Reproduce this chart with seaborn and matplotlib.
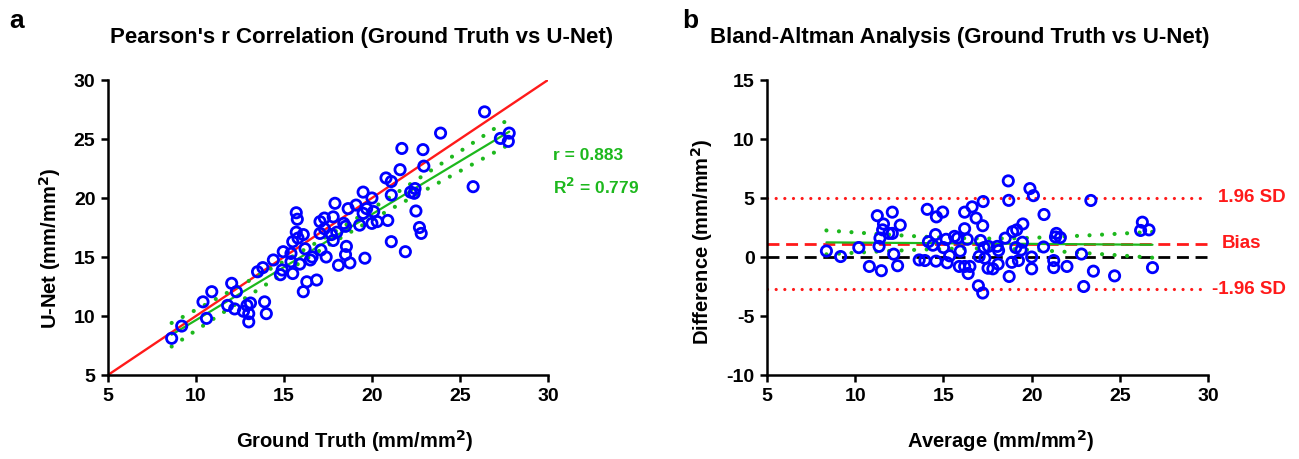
import numpy as np
import pandas as pd
import seaborn as sns
import matplotlib
matplotlib.use('Agg')
import matplotlib.pyplot as plt

# style: Prism-like, bold Arial look, pure black text/axes
sns.set_style('ticks')
plt.rcParams['font.family'] = ['Liberation Sans', 'DejaVu Sans']
plt.rcParams['font.weight'] = 'bold'
plt.rcParams['axes.labelweight'] = 'bold'
plt.rcParams['axes.unicode_minus'] = False
plt.rcParams['mathtext.default'] = 'bf'
for key in ['text.color', 'axes.labelcolor', 'axes.edgecolor', 'xtick.color', 'ytick.color']:
    plt.rcParams[key] = 'black'

# data (Ground Truth vs U-Net, mm/mm^2)
ground_truth = [8.62, 9.19, 10.6, 10.9, 10.4, 12.03, 12.3, 11.8, 12.2, 12.7,
                12.9, 13.1, 13.0, 13.0, 13.5, 13.8, 13.9, 14.0, 17.9, 18.65,
                19.1, 15.7, 15.76, 17.05, 17.3, 17.8, 15.7, 15.8, 15.5, 17.05,
                17.3, 17.7, 18.0, 14.96, 15.4, 16.2, 16.6, 17.1, 17.4, 18.55,
                18.5, 18.1, 18.75, 14.4, 14.9, 15.5, 16.3, 16.86, 16.1, 23.9,
                21.7, 22.9, 21.6, 22.95, 20.8, 21.1, 21.1, 19.5, 20.0, 22.2,
                22.4, 19.7, 19.5, 20.1, 20.3, 20.0, 19.3, 18.4, 18.5, 20.9,
                22.5, 22.7, 22.8, 21.1, 21.9, 19.6, 26.4, 27.3, 27.8, 27.75,
                25.75, 16.1, 16.5, 14.8, 15.4, 15.9, 17.8, 22.45]
unet = [8.11, 9.15, 9.8, 12.06, 11.2, 12.77, 12.06, 10.9, 10.6, 10.4,
        10.9, 11.1, 9.5, 10.2, 13.75, 14.1, 11.2, 10.2, 19.55, 19.1,
        19.4, 18.75, 18.2, 18.0, 18.3, 18.4, 17.1, 16.6, 16.3, 17.0,
        17.4, 16.9, 17.1, 15.45, 15.3, 15.7, 15.0, 15.6, 15.0, 15.9,
        15.2, 14.3, 14.5, 14.75, 13.9, 13.6, 12.9, 13.05, 12.06, 25.5,
        24.2, 24.1, 22.4, 22.7, 21.7, 21.4, 20.25, 20.5, 20.0, 20.5,
        20.4, 19.1, 18.7, 18.85, 18.0, 17.85, 17.7, 17.85, 17.6, 18.1,
        18.9, 17.5, 17.0, 16.3, 15.45, 14.9, 27.3, 25.05, 25.5, 24.8,
        20.96, 16.9, 14.75, 13.5, 14.6, 14.4, 16.4, 20.8]

r_label = 'r = 0.883'
r2_label = 'R$^2$ = 0.779'
left_ticks = [5, 10, 15, 20, 25, 30]
right_yticks = [-10, -5, 0, 5, 10, 15]

BLUE = '#0000FF'
RED = '#FF1A1A'
GREEN = '#1DB81D'
UNIT = 'mm/mm$^2$'


def fit_with_band(x, y, xs, t=1.99):
    # linear fit + 95% confidence band of the fitted line
    n = len(x)
    slope, intercept = np.polyfit(x, y, 1)
    yhat = intercept + slope * xs
    resid = y - (intercept + slope * x)
    s = np.sqrt(np.sum(resid ** 2) / (n - 2))
    se = s * np.sqrt(1 / n + (xs - x.mean()) ** 2 / np.sum((x - x.mean()) ** 2))
    return yhat, yhat - t * se, yhat + t * se


def style_axis(ax):
    sns.despine(ax=ax)
    for side in ['left', 'bottom']:
        ax.spines[side].set_linewidth(1.8)
    ax.tick_params(axis='both', width=1.8, length=5, labelsize=14,
                   direction='out', pad=4)
    for lab in ax.get_xticklabels() + ax.get_yticklabels():
        lab.set_fontweight('bold')


df = pd.DataFrame({'GT': ground_truth, 'UNet': unet})
df['Average'] = (df['GT'] + df['UNet']) / 2
df['Difference'] = df['GT'] - df['UNet']

fig = plt.figure(figsize=(12.99, 4.59), dpi=100)
ax1 = fig.add_axes([0.0831, 0.183, 0.3387, 0.6427])
ax2 = fig.add_axes([0.5905, 0.183, 0.3395, 0.6427])

dot_style = dict(color=GREEN, linewidth=3.0, linestyle=(0, (0.01, 3.0)),
                 dash_capstyle='round')

# ---- a: correlation ----
ax1.plot([5, 30], [5, 30], color=RED, linewidth=1.7, zorder=1)
x = df['GT'].values
y = df['UNet'].values
xs = np.linspace(x.min(), x.max(), 100)
yhat, lo, hi = fit_with_band(x, y, xs)
ax1.plot(xs, yhat, color=GREEN, linewidth=1.6, zorder=2)
ax1.plot(xs, lo, **dot_style, zorder=2)
ax1.plot(xs, hi, **dot_style, zorder=2)
sns.scatterplot(data=df, x='GT', y='UNet', ax=ax1, marker='o', s=55,
                facecolor='none', edgecolor=BLUE, linewidth=2.0, zorder=3)
ax1.set_xlim(5, 30)
ax1.set_ylim(5, 30)
ax1.set_xticks(left_ticks)
ax1.set_yticks(left_ticks)
ax1.set_xlabel('Ground Truth (' + UNIT + ')', fontsize=14.5, fontweight='bold')
ax1.set_ylabel('U-Net (' + UNIT + ')', fontsize=14.5, fontweight='bold')
ax1.xaxis.set_label_coords(0.56, -0.18)
ax1.yaxis.set_label_coords(-0.103, 0.43)
ax1.text(30.3, 23.6, r_label, color=GREEN, fontsize=12.5, fontweight='bold',
         va='center', ha='left', clip_on=False)
ax1.text(30.3, 20.9, r2_label, color=GREEN, fontsize=12.5, fontweight='bold',
         va='center', ha='left', clip_on=False)
style_axis(ax1)

# ---- b: Bland-Altman ----
bias = df['Difference'].mean()
sd = df['Difference'].std()
upper = bias + 1.96 * sd
lower = bias - 1.96 * sd

red_dots = dict(color=RED, linewidth=2.3, linestyle=(0, (0.01, 2.7)),
                dash_capstyle='round')
ax2.axhline(upper, **red_dots, zorder=1)
ax2.axhline(lower, **red_dots, zorder=1)
ax2.axhline(bias, color=RED, linewidth=2.0, linestyle=(0, (4.3, 2.4)), zorder=1)
ax2.axhline(0, color='black', linewidth=2.0, linestyle=(0, (4.3, 2.4)), zorder=1)

avg = df['Average'].values
dif = df['Difference'].values
xs2 = np.linspace(avg.min(), avg.max(), 100)
dhat, dlo, dhi = fit_with_band(avg, dif, xs2)
ax2.plot(xs2, dhat, color=GREEN, linewidth=1.6, zorder=2)
ax2.plot(xs2, dlo, **dot_style, zorder=2)
ax2.plot(xs2, dhi, **dot_style, zorder=2)
sns.scatterplot(data=df, x='Average', y='Difference', ax=ax2, marker='o', s=55,
                facecolor='none', edgecolor=BLUE, linewidth=2.0, zorder=3)
ax2.set_xlim(5, 30)
ax2.set_ylim(-10, 15)
ax2.set_xticks(left_ticks)
ax2.set_yticks(right_yticks)
ax2.set_xlabel('Average (' + UNIT + ')', fontsize=14.5, fontweight='bold')
ax2.set_ylabel('Difference (' + UNIT + ')', fontsize=14.5, fontweight='bold')
ax2.xaxis.set_label_coords(0.53, -0.18)
ax2.yaxis.set_label_coords(-0.118, 0.45)
ax2.text(30.55, upper, '1.96 SD', color=RED, fontsize=13.5, fontweight='bold',
         va='center', ha='left', clip_on=False)
ax2.text(30.75, bias, 'Bias', color=RED, fontsize=13.5, fontweight='bold',
         va='center', ha='left', clip_on=False)
ax2.text(30.2, lower, '-1.96 SD', color=RED, fontsize=13.5, fontweight='bold',
         va='center', ha='left', clip_on=False)
style_axis(ax2)

# titles and panel letters
fig.text(110 / 1299, 1 - 37 / 459, "Pearson's r Correlation (Ground Truth vs U-Net)",
         fontsize=16, fontweight='bold', ha='left', va='center')
fig.text(710 / 1299, 1 - 37 / 459, 'Bland-Altman Analysis (Ground Truth vs U-Net)',
         fontsize=16, fontweight='bold', ha='left', va='center')
fig.text(9 / 1299, 1 - 21 / 459, 'a', fontsize=19, fontweight='bold', ha='left', va='center')
fig.text(682 / 1299, 1 - 21 / 459, 'b', fontsize=19, fontweight='bold', ha='left', va='center')

fig.savefig('out.png', dpi=100)
